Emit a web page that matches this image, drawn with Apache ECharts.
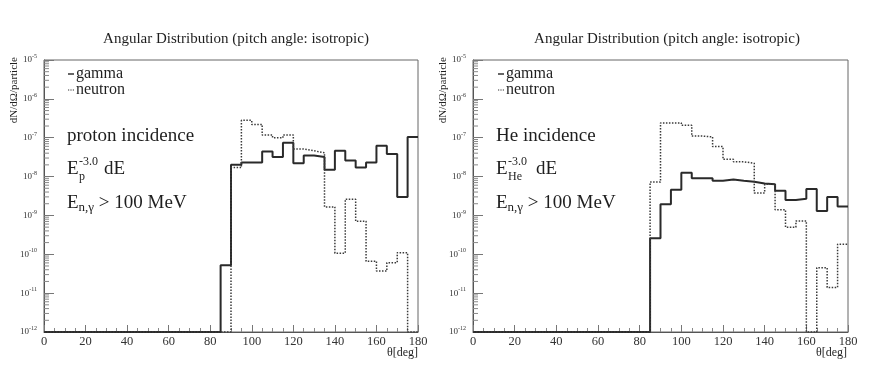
<!DOCTYPE html>
<html>
<head>
<meta charset="utf-8">
<script src="https://cdn.jsdelivr.net/npm/echarts@6/dist/echarts.min.js"></script>
<style>
  html, body { margin: 0; padding: 0; background: #fff; }
  #chart { width: 872px; height: 385px; }
</style>
</head>
<body>
<div id="chart"></div>
<script>
// bin lower edges [deg], each bin is 5 deg wide; bins below 85 deg are empty
var binStart = [85, 90, 95, 100, 105, 110, 115, 120, 125, 130, 135, 140, 145, 150, 155, 160, 165, 170, 175];
var binWidth = 5;
var yTickExp = [-12, -11, -10, -9, -8, -7, -6, -5];
var minorMantissa = [2, 3, 4, 5, 6, 7, 8, 9];

// proton incidence panel
var protonGamma   = [5.2e-11, 2.0e-8, 2.3e-8, 2.3e-8, 4.4e-8, 3.2e-8, 7.4e-8, 2.2e-8, 3.5e-8, 3.2e-8,
                     1.5e-8, 4.6e-8, 2.6e-8, 1.7e-8, 2.3e-8, 6.2e-8, 3.8e-8, 3.0e-9, 1.05e-7];
var protonNeutron = [0, 1.7e-8, 2.8e-7, 2.2e-7, 1.17e-7, 1.0e-7, 1.17e-7, 5.1e-8, 4.6e-8, 4.1e-8,
                     1.66e-9, 1.07e-10, 2.6e-9, 7.1e-10, 6.6e-11, 3.7e-11, 6.1e-11, 1.1e-10, 0];
// He incidence panel
var heGamma   = [2.6e-10, 1.95e-9, 4.6e-9, 1.26e-8, 9.0e-9, 9.0e-9, 7.8e-9, 8.4e-9, 7.8e-9, 7.4e-9,
                 6.6e-9, 6.3e-9, 4.3e-9, 2.5e-9, 2.7e-9, 4.8e-9, 1.3e-9, 3.0e-9, 1.7e-9];
var heNeutron = [7.2e-9, 2.4e-7, 2.4e-7, 2.1e-7, 1.1e-7, 1.05e-7, 5.9e-8, 2.8e-8, 2.4e-8, 2.2e-8,
                 3.8e-9, 6.3e-9, 1.4e-9, 5.0e-10, 7.2e-10, 0, 4.5e-11, 1.4e-11, 1.8e-10];

var FLOOR = 1e-12;
var SERIF = '"Liberation Serif", "DejaVu Serif", serif';
var INK = '#1e1e1e';

// histogram outline: empty bins sit on the axis floor
function histogram(values) {
  var pts = [[0, FLOOR], [binStart[0], FLOOR]];
  for (var i = 0; i < binStart.length; i++) {
    var v = values[i] > 0 ? values[i] : FLOOR;
    pts.push([binStart[i], v], [binStart[i] + binWidth, v]);
  }
  return pts;
}

// log-spaced minor ticks (2..9 x 10^k) for the left axis
var minorTicks = [];
yTickExp.slice(0, -1).forEach(function (e) {
  minorMantissa.forEach(function (m) { minorTicks.push([0, m * Math.pow(10, e)]); });
});

function xAxisFor(i) {
  return {
    type: 'value', gridIndex: i, min: 0, max: 180, interval: 20,
    axisLine: { lineStyle: { color: '#555', width: 1 } },
    axisTick: { inside: true, length: 7, lineStyle: { color: '#777' } },
    minorTick: { show: true, splitNumber: 4, length: 4, lineStyle: { color: '#888' } },
    splitLine: { show: false },
    axisLabel: { fontFamily: SERIF, fontSize: 12.5, color: '#333', margin: 3 }
  };
}

function yAxisFor(i) {
  return {
    type: 'log', gridIndex: i, logBase: 10, min: 1e-12, max: 1e-5, splitNumber: 7,
    axisLine: { lineStyle: { color: '#555', width: 1 } },
    axisTick: { inside: true, length: 10, lineStyle: { color: '#777' } },
    minorTick: { show: false },
    splitLine: { show: false },
    axisLabel: {
      margin: 7,
      formatter: function (v) {
        var e = Math.round(Math.log(v) / Math.LN10);
        if (yTickExp.indexOf(e) < 0) return '';
        return '{b|10}{s|' + e + '}';
      },
      rich: {
        b: { fontFamily: SERIF, fontSize: 9, color: '#333' },
        s: { fontFamily: SERIF, fontSize: 6, color: '#333', padding: [0, 0, 7, 0] }
      }
    }
  };
}

function seriesFor(i, gamma, neutron) {
  return [
    {
      type: 'line', name: 'gamma', xAxisIndex: i, yAxisIndex: i,
      data: histogram(gamma), symbol: 'none', animation: false,
      lineStyle: { color: '#2a2a2a', width: 2 }, itemStyle: { color: '#2a2a2a' }
    },
    {
      type: 'line', name: 'neutron', xAxisIndex: i, yAxisIndex: i,
      data: histogram(neutron), symbol: 'none', animation: false,
      lineStyle: { color: '#3a3a3a', width: 1.5, type: 'dotted' }, itemStyle: { color: '#3a3a3a' }
    },
    {
      type: 'custom', name: 'minor', xAxisIndex: i, yAxisIndex: i, silent: true,
      data: minorTicks, animation: false,
      renderItem: function (params, api) {
        var p = api.coord([0, api.value(1)]);
        return {
          type: 'line',
          shape: { x1: p[0], y1: p[1], x2: p[0] + 5, y2: p[1] },
          style: { stroke: '#888', lineWidth: 1 }
        };
      }
    }
  ];
}

function legendFor(left) {
  return {
    left: left, top: 61, orient: 'vertical', itemGap: 0,
    itemWidth: 6, itemHeight: 1.5,
    data: [
      { name: 'gamma', icon: 'rect', itemStyle: { color: '#333' } },
      { name: 'neutron', icon: 'path://M0,0h1v1h-1z M2,0h1v1h-1z M4,0h1v1h-1z', itemStyle: { color: '#333' } }
    ],
    textStyle: { fontFamily: SERIF, fontSize: 16, lineHeight: 15, color: INK, padding: [0, 0, 0, -3] }
  };
}

function txt(x, y, s, size, align) {
  return {
    type: 'text', x: x, y: y, silent: true,
    style: { text: s, font: size + 'px ' + SERIF, fill: INK, align: align || 'left', verticalAlign: 'middle' }
  };
}

function labels(ox, incidence, sub) {
  return [
    txt(ox + 23, 136, incidence, 19),
    txt(ox + 23, 169, 'E', 19),
    txt(ox + 35, 162, '-3.0', 12),
    txt(ox + 35, 177, sub, 12),
    txt(ox + (sub === 'p' ? 60 : 63), 169, 'dE', 19),
    {
      type: 'text', x: ox + 23, y: 203, silent: true,
      style: {
        text: '{m|E}{u|n,γ}{m| > 100 MeV}', verticalAlign: 'middle',
        rich: {
          m: { fontFamily: SERIF, fontSize: 19, fill: INK, color: INK },
          u: { fontFamily: SERIF, fontSize: 13, fill: INK, color: INK, padding: [10, 0, 0, 0] }
        }
      }
    },
    txt(ox + 374, 353, 'θ[deg]', 12, 'right'),
    {
      type: 'text', x: ox - 30, y: 57, rotation: Math.PI / 2, silent: true,
      style: { text: 'dN/dΩ/particle', font: '11px ' + SERIF, fill: INK, align: 'right', verticalAlign: 'middle' }
    }
  ];
}

var myChart = echarts.init(document.getElementById('chart'));
var option = {
  backgroundColor: '#fff',
  animation: false,
  title: [
    { text: 'Angular Distribution (pitch angle: isotropic)', left: 231, top: 27, textAlign: 'center',
      textStyle: { fontFamily: SERIF, fontSize: 15, fontWeight: 'normal', color: INK } },
    { text: 'Angular Distribution (pitch angle: isotropic)', left: 662, top: 27, textAlign: 'center',
      textStyle: { fontFamily: SERIF, fontSize: 15, fontWeight: 'normal', color: INK } }
  ],
  legend: [legendFor(63), legendFor(493)],
  grid: [
    { left: 44, top: 60, width: 374, height: 272, show: true, borderColor: '#666', borderWidth: 1, backgroundColor: 'transparent' },
    { left: 473, top: 60, width: 375, height: 272, show: true, borderColor: '#666', borderWidth: 1, backgroundColor: 'transparent' }
  ],
  xAxis: [xAxisFor(0), xAxisFor(1)],
  yAxis: [yAxisFor(0), yAxisFor(1)],
  series: seriesFor(0, protonGamma, protonNeutron).concat(seriesFor(1, heGamma, heNeutron)),
  graphic: labels(44, 'proton incidence', 'p').concat(labels(473, 'He incidence', 'He'))
};
myChart.setOption(option);
</script>
</body>
</html>
